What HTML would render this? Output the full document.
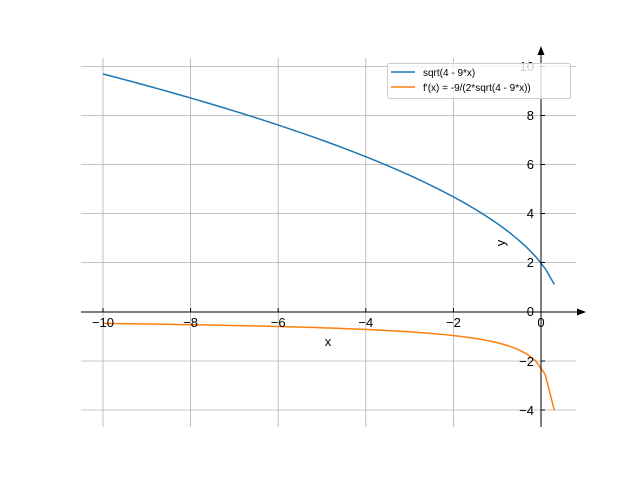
<!DOCTYPE html>
<html><head><style>body{margin:0;background:#fff}svg{display:block}text{font-family:"Liberation Sans","DejaVu Sans",sans-serif}</style></head>
<body>
<svg id="s" width="640" height="480" xmlns="http://www.w3.org/2000/svg">
<g stroke="#b0b0b0" stroke-width="0.8">
<line x1="103" y1="58" x2="103" y2="427"/><line x1="190.6" y1="58" x2="190.6" y2="427"/><line x1="278.2" y1="58" x2="278.2" y2="427"/><line x1="365.8" y1="58" x2="365.8" y2="427"/><line x1="453.4" y1="58" x2="453.4" y2="427"/>
<line x1="81" y1="66.5" x2="576" y2="66.5"/><line x1="81" y1="115.5" x2="576" y2="115.5"/><line x1="81" y1="164.5" x2="576" y2="164.5"/><line x1="81" y1="213.5" x2="576" y2="213.5"/><line x1="81" y1="262.5" x2="576" y2="262.5"/><line x1="81" y1="361" x2="576" y2="361"/><line x1="81" y1="410" x2="576" y2="410"/>
</g>
<path id="b" fill="none" stroke="#1f77b4" stroke-width="1.5"/>
<path id="o" fill="none" stroke="#ff7f0e" stroke-width="1.5"/>
<g stroke="#000" stroke-width="1">
<line x1="541" y1="50" x2="541" y2="427"/><line x1="81" y1="312" x2="580" y2="312"/>
<line x1="103" y1="308" x2="103" y2="312"/><line x1="190.6" y1="308" x2="190.6" y2="312"/><line x1="278.2" y1="308" x2="278.2" y2="312"/><line x1="365.8" y1="308" x2="365.8" y2="312"/><line x1="453.4" y1="308" x2="453.4" y2="312"/>
<line x1="541" y1="66.5" x2="545" y2="66.5"/><line x1="541" y1="115.5" x2="545" y2="115.5"/><line x1="541" y1="164.5" x2="545" y2="164.5"/><line x1="541" y1="213.5" x2="545" y2="213.5"/><line x1="541" y1="262.5" x2="545" y2="262.5"/><line x1="541" y1="361" x2="545" y2="361"/><line x1="541" y1="410" x2="545" y2="410"/>
</g>
<polygon points="541,46 537.5,55 544.5,55" fill="#000"/>
<polygon points="586,312 577,308.5 577,315.5" fill="#000"/>
<g font-size="13" fill="#000" text-anchor="middle">
<text x="103" y="327">−10</text><text x="190.6" y="327">−8</text><text x="278.2" y="327">−6</text><text x="365.8" y="327">−4</text><text x="453.4" y="327">−2</text><text x="541" y="327">0</text>
<text x="328" y="346">x</text>
</g>
<g font-size="13" fill="#000" text-anchor="end">
<text x="534" y="71">10</text><text x="534" y="120">8</text><text x="534" y="169">6</text><text x="534" y="218">4</text><text x="534" y="267">2</text><text x="534" y="316">0</text><text x="534" y="366">−2</text><text x="534" y="415">−4</text>
</g>
<text x="505" y="243" font-size="13" text-anchor="middle" transform="rotate(-90 505 243)">y</text>
<rect x="387.5" y="63.5" width="183" height="35" fill="#fff" fill-opacity="0.8" stroke="#ccc" rx="2"/>
<line x1="391" y1="72" x2="415" y2="72" stroke="#1f77b4" stroke-width="1.5"/>
<line x1="391" y1="87" x2="415" y2="87" stroke="#ff7f0e" stroke-width="1.5"/>
<text x="423" y="76" font-size="10">sqrt(4 - 9*x)</text>
<text x="423" y="91" font-size="10">f'(x) = -9/(2*sqrt(4 - 9*x))</text>
</svg>
<script>
var X=function(x){return 541+43.8*x},Y=function(y){return 312-24.55*y};
var b="",o="",n=50;
for(var i=0;i<n;i++){var x=-10+10.304*i/(n-1);var s=Math.sqrt(4-9*x);
b+=(i?"L":"M")+X(x).toFixed(2)+","+Y(s).toFixed(2);
o+=(i?"L":"M")+X(x).toFixed(2)+","+Y(-4.5/s).toFixed(2);}
document.getElementById("b").setAttribute("d",b);
document.getElementById("o").setAttribute("d",o);
</script>
</body></html>
